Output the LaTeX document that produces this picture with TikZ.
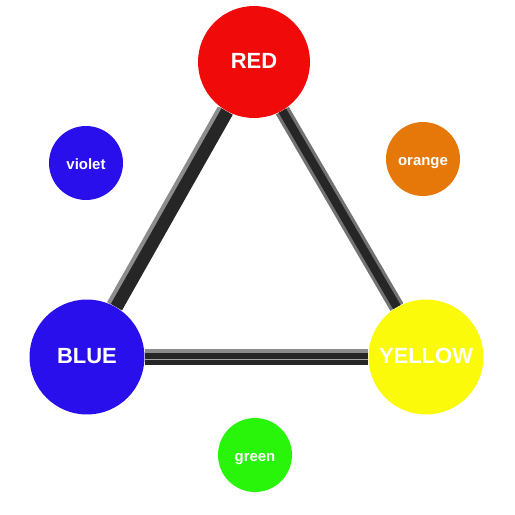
\documentclass[tikz,border=0pt]{standalone}
\usepackage{fontspec}
\setmainfont{Liberation Sans}
\usetikzlibrary{backgrounds}
\definecolor{cred}{RGB}{240,10,10}
\definecolor{cblue}{RGB}{40,15,235}
\definecolor{cyellow}{RGB}{250,250,10}
\definecolor{corange}{RGB}{230,120,10}
\definecolor{cgreen}{RGB}{40,245,10}
\begin{document}
\begin{tikzpicture}[x=0.02cm,y=-0.02cm]
    \tikzstyle{colour}=[circle,inner sep=0pt,text=white,text height=1.45ex,text depth=0pt]
    \tikzstyle{primary}=[colour,minimum size=2.3cm,font=\fontsize{12.5}{14}\selectfont\bfseries]
    \tikzstyle{secondary}=[colour,minimum size=1.48cm,font=\fontsize{8.5}{10}\selectfont\bfseries]
    \tikzstyle{bar}=[line width=0.3cm,draw=black!85]
    \tikzstyle{shine}=[line width=0.08cm,draw=black!45]
    \useasboundingbox (0,0) rectangle (515,515);
    % primary colours
    \node[primary, fill=cred, minimum size=2.24cm] (R) at (254,62) {RED};
    \node[primary, fill=cblue] (B) at (87,357) {BLUE};
    \node[primary, fill=cyellow] (Y) at (426,357) {YELLOW};
    % secondary colours
    \foreach \name/\col/\x/\y in {violet/cblue/86/163, orange/corange/423/159, green/cgreen/255/455}
        \node[secondary, fill=\col] (\name) at (\x,\y) {\name};
    % bars between the primaries
    \begin{scope}[on background layer]
        \draw[bar] (R) -- (B);
        \draw[shine, transform canvas={xshift=-3.8pt,yshift=2pt}] (R) -- (B);
        \draw[bar, draw=black!55, double=black!85, double distance=0.17cm, line width=0.065cm] (R) -- (Y);
        \draw[bar] (B) -- (Y);
        \draw[shine, transform canvas={yshift=3.2pt}] (B) -- (Y);
        \draw[line width=0.02cm, draw=black!35, transform canvas={yshift=-1.5pt}] (B) -- (Y);
    \end{scope}
\end{tikzpicture}
\end{document}
